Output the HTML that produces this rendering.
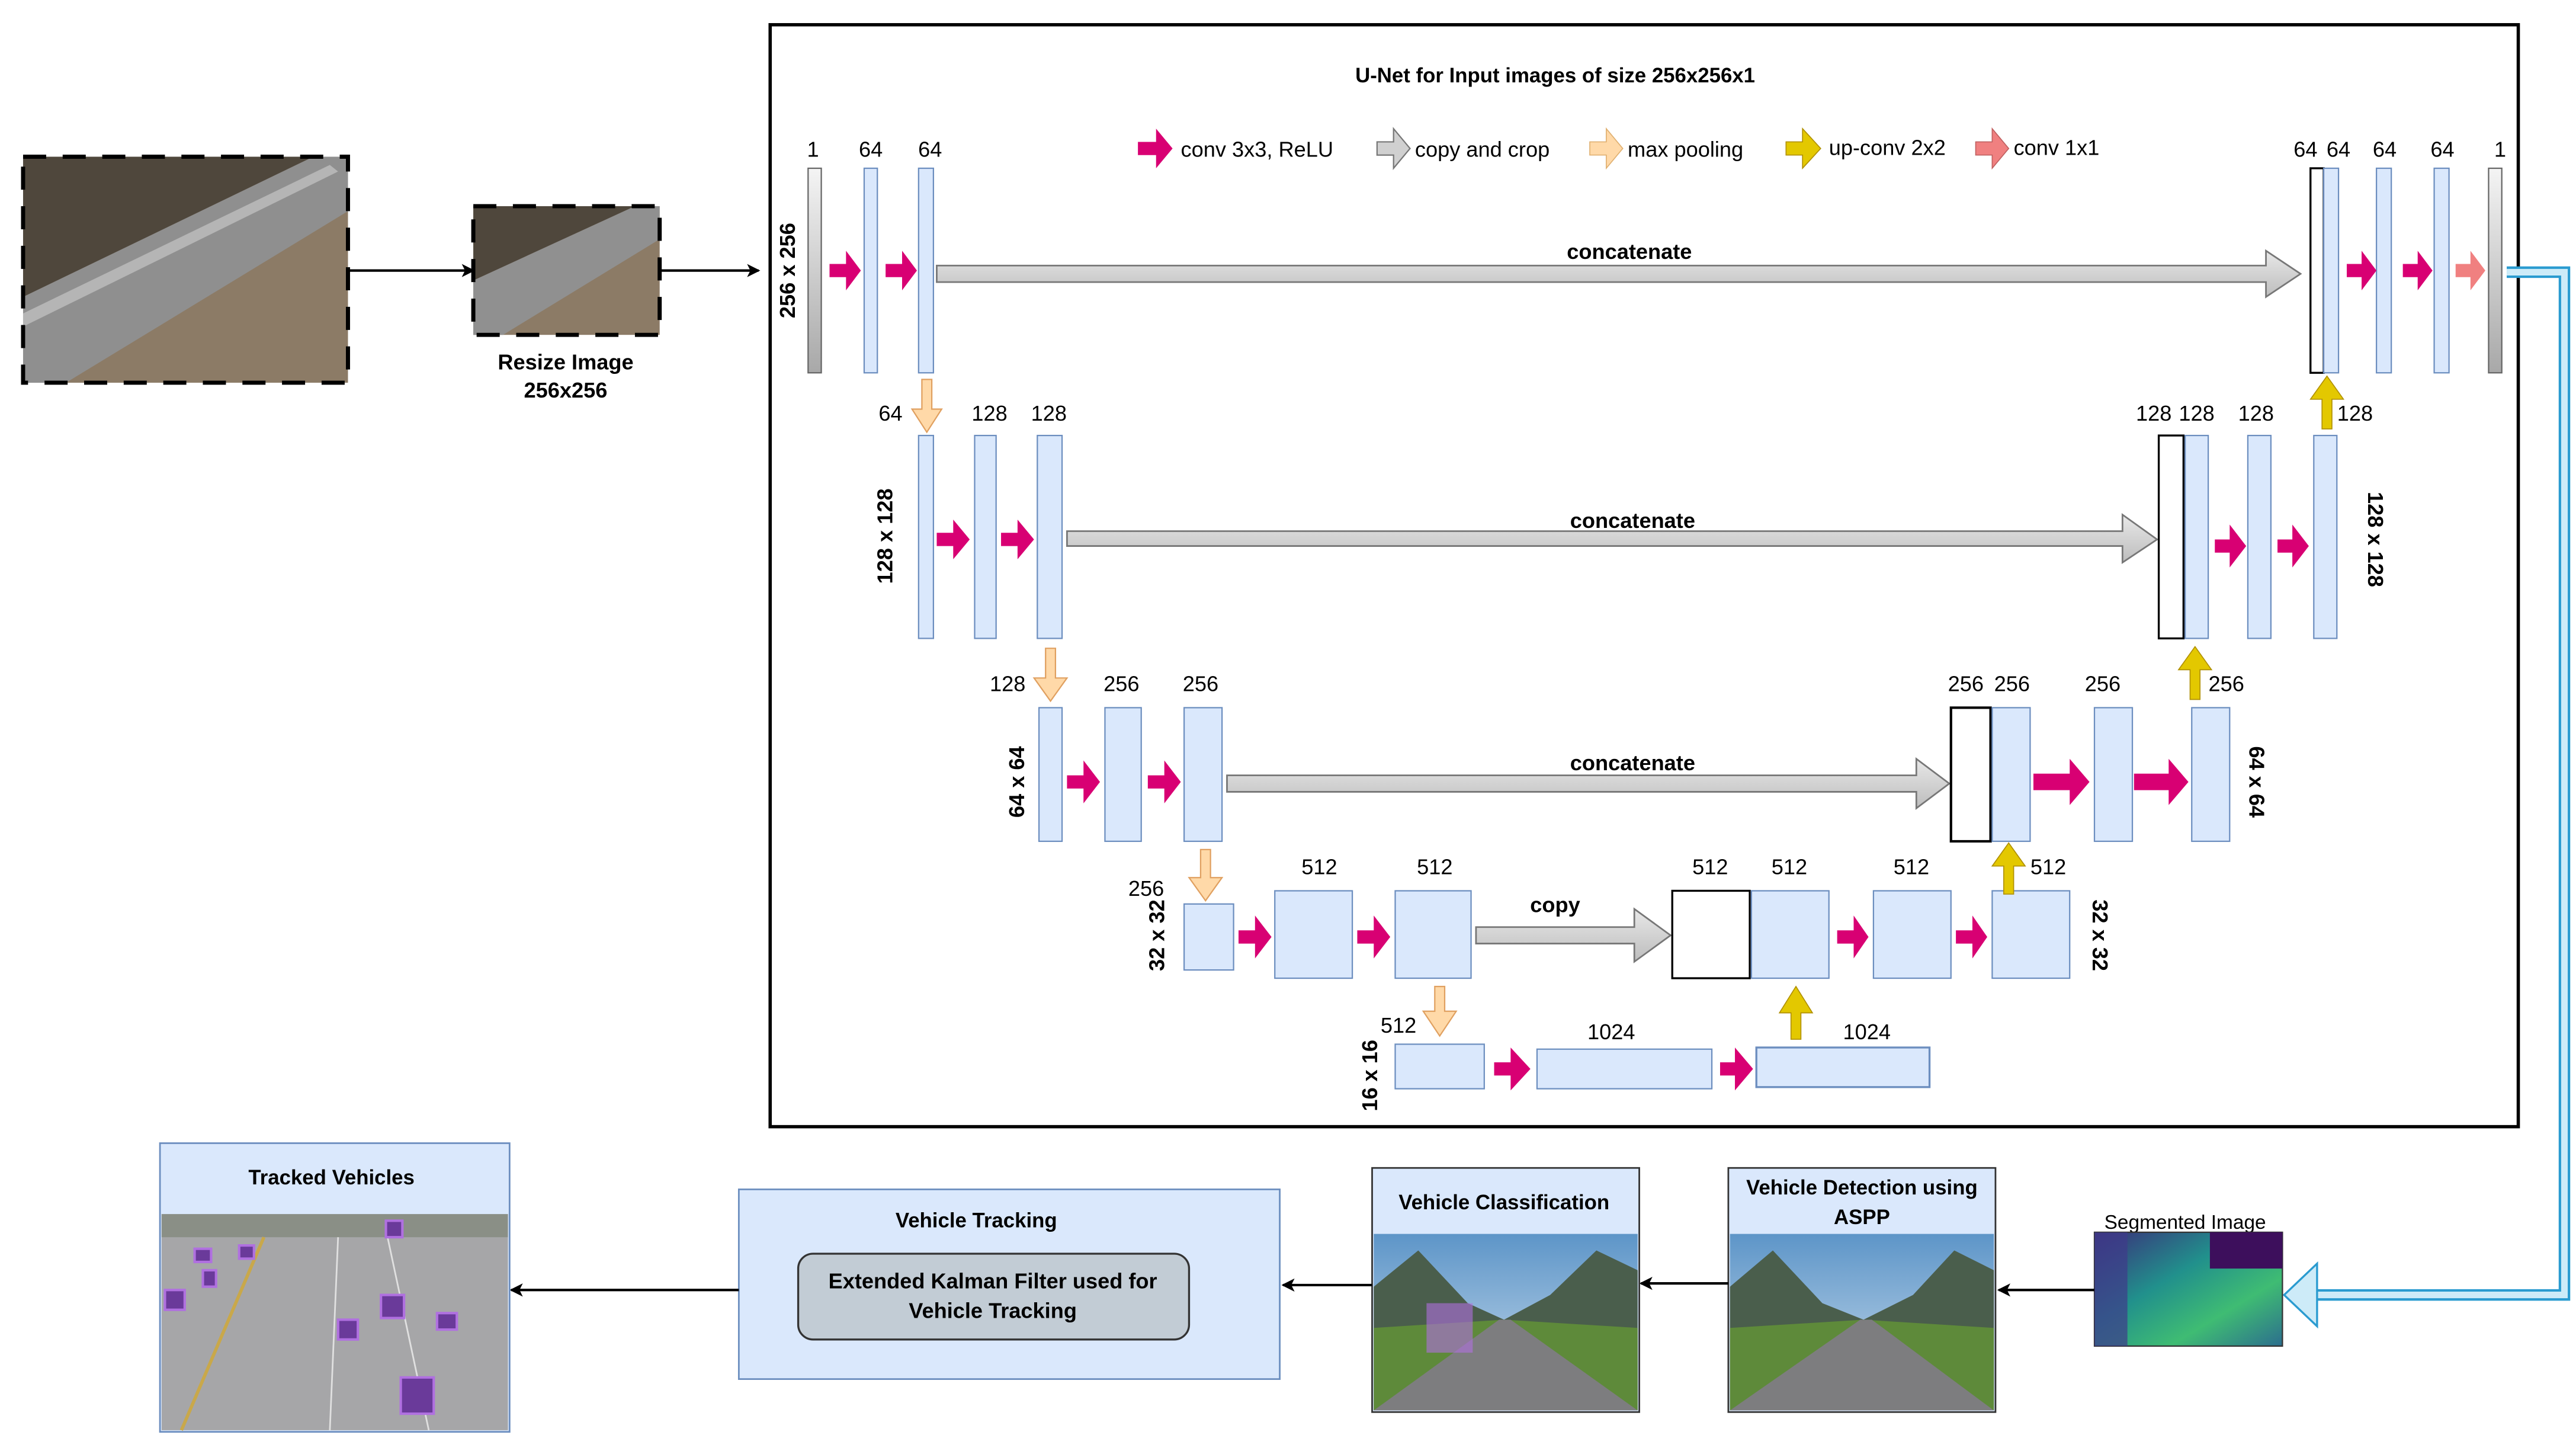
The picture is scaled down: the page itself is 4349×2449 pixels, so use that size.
<!DOCTYPE html>
<html><head><meta charset="utf-8"><style>
html,body{margin:0;padding:0;background:#fff;}
svg{display:block;}
text{font-family:"Liberation Sans",sans-serif;}
</style></head><body>
<svg width="4349" height="2449" viewBox="0 0 1562 879.6" preserveAspectRatio="none" xmlns="http://www.w3.org/2000/svg">
<defs>
<marker id="ah" markerWidth="8" markerHeight="8" refX="7" refY="4" orient="auto" markerUnits="userSpaceOnUse"><path d="M0,0 L8,4 L0,8 L2,4 Z" fill="#000"/></marker>
<linearGradient id="gbar" x1="0" y1="0" x2="0" y2="1"><stop offset="0" stop-color="#f4f4f4"/><stop offset="1" stop-color="#a8a8a8"/></linearGradient>
<linearGradient id="gcopy" x1="0" y1="0" x2="0" y2="1"><stop offset="0" stop-color="#e8e8e8"/><stop offset="1" stop-color="#bdbdbd"/></linearGradient>
<linearGradient id="sky" x1="0" y1="0" x2="0" y2="1"><stop offset="0" stop-color="#5d95c8"/><stop offset="1" stop-color="#cfe0ee"/></linearGradient>
<linearGradient id="seg" x1="0" y1="0" x2="1" y2="1"><stop offset="0" stop-color="#3b2c7a"/><stop offset="0.4" stop-color="#21908c"/><stop offset="0.7" stop-color="#3fbc73"/><stop offset="1" stop-color="#2c6e8e"/></linearGradient>
</defs>

<g>
<rect x="14" y="95" width="197" height="137" fill="#8c7b66"/>
<polygon points="14,95 190,95 14,180" fill="#4f473c"/>
<polygon points="14,180 190,95 211,95 211,128 40,232 14,232" fill="#8f8f8f"/>
<polygon points="14,190 200,100 205,104 14,198" fill="#b5b5b5"/>
<rect x="14" y="95" width="197" height="137" fill="none" stroke="#000" stroke-width="2.5" stroke-dasharray="14,10"/>
<line x1="211" y1="164" x2="287" y2="164" stroke="#000" stroke-width="1.5" marker-end="url(#ah)"/>
<rect x="287" y="125" width="113" height="78" fill="#8c7b66"/>
<polygon points="287,125 385,125 287,170" fill="#4f473c"/>
<polygon points="287,170 385,125 400,125 400,145 305,203 287,203" fill="#909090"/>
<rect x="287" y="125" width="113" height="78" fill="none" stroke="#000" stroke-width="2.5" stroke-dasharray="14,10"/>
<text x="343" y="224" font-size="13" font-weight="bold" text-anchor="middle">Resize Image</text>
<text x="343" y="241" font-size="13" font-weight="bold" text-anchor="middle">256x256</text>
<line x1="400" y1="164" x2="460" y2="164" stroke="#000" stroke-width="1.5" marker-end="url(#ah)"/>
</g>

<rect x="467" y="15" width="1060" height="668" fill="#fff" stroke="#000" stroke-width="2"/>
<text x="943" y="50" font-size="12.5" font-weight="bold" text-anchor="middle">U-Net for Input images of size 256x256x1</text>

<g font-size="13">
<polygon points="690,86 701,86 701,78 711,90 701,102 701,94 690,94" fill="#d80073"/>
<text x="716" y="95">conv 3x3, ReLU</text>
<polygon points="835,86 845,86 845,78 855,90 845,102 845,94 835,94" fill="#d0d0d0" stroke="#777" stroke-width="0.8"/>
<text x="858" y="95">copy and crop</text>
<polygon points="964,86 974,86 974,78 984,90 974,102 974,94 964,94" fill="#ffd9a8" stroke="#e0b070" stroke-width="0.6"/>
<text x="987" y="95">max pooling</text>
<polygon points="1083,86 1093,86 1093,78 1104,90 1093,102 1093,94 1083,94" fill="#e3c800" stroke="#b09000" stroke-width="0.6"/>
<text x="1109" y="94">up-conv 2x2</text>
<polygon points="1198,86 1208,86 1208,78 1218,90 1208,102 1208,94 1198,94" fill="#f08080" stroke="#c06060" stroke-width="0.6"/>
<text x="1221" y="94">conv 1x1</text>
</g>

<g font-size="13" text-anchor="middle">
<rect x="490" y="102" width="8" height="124" fill="url(#gbar)" stroke="#666" stroke-width="0.8"/>
<rect x="524" y="102" width="8" height="124" fill="#dae8fc" stroke="#6c8ebf" stroke-width="0.8"/>
<rect x="557" y="102" width="9" height="124" fill="#dae8fc" stroke="#6c8ebf" stroke-width="0.8"/>
<text x="493" y="95">1</text><text x="528" y="95">64</text><text x="564" y="95">64</text>
<text transform="translate(482,164) rotate(-90)" font-weight="bold">256 x 256</text>
<polygon points="503,160 513,160 513,152 522,164 513,176 513,168 503,168" fill="#d80073"/>
<polygon points="537,160 547,160 547,152 556,164 547,176 547,168 537,168" fill="#d80073"/>
<polygon points="568,161 1374,161 1374,152 1395,166 1374,180 1374,171 568,171" fill="url(#gcopy)" stroke="#777" stroke-width="1"/>
<text x="988" y="157" font-weight="bold">concatenate</text>
<rect x="1401" y="102" width="8" height="124" fill="#fff" stroke="#000" stroke-width="1.2"/>
<rect x="1409" y="102" width="9" height="124" fill="#dae8fc" stroke="#6c8ebf" stroke-width="0.8"/>
<rect x="1441" y="102" width="9" height="124" fill="#dae8fc" stroke="#6c8ebf" stroke-width="0.8"/>
<rect x="1476" y="102" width="9" height="124" fill="#dae8fc" stroke="#6c8ebf" stroke-width="0.8"/>
<rect x="1509" y="102" width="8" height="124" fill="url(#gbar)" stroke="#666" stroke-width="0.8"/>
<polygon points="1423,160 1432,160 1432,152 1441,164 1432,176 1432,168 1423,168" fill="#d80073"/>
<polygon points="1457,160 1466,160 1466,152 1475,164 1466,176 1466,168 1457,168" fill="#d80073"/>
<polygon points="1489,160 1498,160 1498,152 1507,164 1498,176 1498,168 1489,168" fill="#f08080"/>
<text x="1398" y="95">64</text><text x="1418" y="95">64</text><text x="1446" y="95">64</text><text x="1481" y="95">64</text><text x="1516" y="95">1</text>

<polygon points="559,230 565,230 565,248 571,248 562,262 553,248 559,248" fill="#ffd9a8" stroke="#e0a060" stroke-width="0.8"/>
<text x="540" y="255">64</text>
<rect x="557" y="264" width="9" height="123" fill="#dae8fc" stroke="#6c8ebf" stroke-width="0.8"/>
<rect x="591" y="264" width="13" height="123" fill="#dae8fc" stroke="#6c8ebf" stroke-width="0.8"/>
<rect x="629" y="264" width="15" height="123" fill="#dae8fc" stroke="#6c8ebf" stroke-width="0.8"/>
<text x="600" y="255">128</text><text x="636" y="255">128</text>
<text transform="translate(541,325) rotate(-90)" font-weight="bold">128 x 128</text>
<polygon points="568,323 578,323 578,315 588,327 578,339 578,331 568,331" fill="#d80073"/>
<polygon points="607,323 617,323 617,315 627,327 617,339 617,331 607,331" fill="#d80073"/>
<polygon points="647,322 1287,322 1287,312 1308,327 1287,341 1287,331 647,331" fill="url(#gcopy)" stroke="#777" stroke-width="1"/>
<text x="990" y="320" font-weight="bold">concatenate</text>
<rect x="1309" y="264" width="15" height="123" fill="#fff" stroke="#000" stroke-width="1.2"/>
<rect x="1325" y="264" width="14" height="123" fill="#dae8fc" stroke="#6c8ebf" stroke-width="0.8"/>
<rect x="1363" y="264" width="14" height="123" fill="#dae8fc" stroke="#6c8ebf" stroke-width="0.8"/>
<rect x="1403" y="264" width="14" height="123" fill="#dae8fc" stroke="#6c8ebf" stroke-width="0.8"/>
<polygon points="1343,327 1352,327 1352,318 1362,331 1352,344 1352,335 1343,335" fill="#d80073"/>
<polygon points="1381,327 1390,327 1390,318 1400,331 1390,344 1390,335 1381,335" fill="#d80073"/>
<polygon points="1408,260 1414,260 1414,242 1421,242 1411,228 1401,242 1408,242" fill="#e3c800" stroke="#b09000" stroke-width="0.6"/>
<text x="1306" y="255">128</text><text x="1332" y="255">128</text><text x="1368" y="255">128</text><text x="1428" y="255">128</text>
<text transform="translate(1436,327) rotate(90)" font-weight="bold">128 x 128</text>

<polygon points="634,393 640,393 640,411 647,411 637,425 627,411 634,411" fill="#ffd9a8" stroke="#e0a060" stroke-width="0.8"/>
<text x="611" y="419">128</text>
<rect x="630" y="429" width="14" height="81" fill="#dae8fc" stroke="#6c8ebf" stroke-width="0.8"/>
<rect x="670" y="429" width="22" height="81" fill="#dae8fc" stroke="#6c8ebf" stroke-width="0.8"/>
<rect x="718" y="429" width="23" height="81" fill="#dae8fc" stroke="#6c8ebf" stroke-width="0.8"/>
<text x="680" y="419">256</text><text x="728" y="419">256</text>
<text transform="translate(621,474) rotate(-90)" font-weight="bold">64 x 64</text>
<polygon points="647,470 657,470 657,461 667,474 657,487 657,478 647,478" fill="#d80073"/>
<polygon points="696,470 706,470 706,461 716,474 706,487 706,478 696,478" fill="#d80073"/>
<polygon points="744,470 1162,470 1162,460 1182,475 1162,490 1162,480 744,480" fill="url(#gcopy)" stroke="#777" stroke-width="1"/>
<text x="990" y="467" font-weight="bold">concatenate</text>
<rect x="1183" y="429" width="24" height="81" fill="#fff" stroke="#000" stroke-width="1.5"/>
<rect x="1208" y="429" width="23" height="81" fill="#dae8fc" stroke="#6c8ebf" stroke-width="0.8"/>
<rect x="1270" y="429" width="23" height="81" fill="#dae8fc" stroke="#6c8ebf" stroke-width="0.8"/>
<rect x="1329" y="429" width="23" height="81" fill="#dae8fc" stroke="#6c8ebf" stroke-width="0.8"/>
<polygon points="1233,469 1255,469 1255,460 1267,474 1255,488 1255,479 1233,479" fill="#d80073"/>
<polygon points="1294,469 1315,469 1315,460 1327,474 1315,488 1315,479 1294,479" fill="#d80073"/>
<polygon points="1328,424 1334,424 1334,406 1341,406 1331,392 1321,406 1328,406" fill="#e3c800" stroke="#b09000" stroke-width="0.6"/>
<text x="1192" y="419">256</text><text x="1220" y="419">256</text><text x="1275" y="419">256</text><text x="1350" y="419">256</text>
<text transform="translate(1364,474) rotate(90)" font-weight="bold">64 x 64</text>

<polygon points="728,515 734,515 734,532 741,532 731,546 721,532 728,532" fill="#ffd9a8" stroke="#e0a060" stroke-width="0.8"/>
<text x="695" y="543">256</text>
<rect x="718" y="548" width="30" height="40" fill="#dae8fc" stroke="#6c8ebf" stroke-width="0.8"/>
<rect x="773" y="540" width="47" height="53" fill="#dae8fc" stroke="#6c8ebf" stroke-width="0.8"/>
<rect x="846" y="540" width="46" height="53" fill="#dae8fc" stroke="#6c8ebf" stroke-width="0.8"/>
<text x="800" y="530">512</text><text x="870" y="530">512</text>
<text transform="translate(706,567) rotate(-90)" font-weight="bold">32 x 32</text>
<polygon points="751,564 761,564 761,555 771,568 761,581 761,572 751,572" fill="#d80073"/>
<polygon points="823,564 833,564 833,555 843,568 833,581 833,572 823,572" fill="#d80073"/>
<polygon points="895,562 991,562 991,551 1013,567 991,583 991,572 895,572" fill="url(#gcopy)" stroke="#777" stroke-width="1"/>
<text x="943" y="553" font-weight="bold">copy</text>
<rect x="1014" y="540" width="47" height="53" fill="#fff" stroke="#000" stroke-width="1.2"/>
<rect x="1062" y="540" width="47" height="53" fill="#dae8fc" stroke="#6c8ebf" stroke-width="0.8"/>
<rect x="1136" y="540" width="47" height="53" fill="#dae8fc" stroke="#6c8ebf" stroke-width="0.8"/>
<rect x="1208" y="540" width="47" height="53" fill="#dae8fc" stroke="#6c8ebf" stroke-width="0.8"/>
<polygon points="1114,564 1124,564 1124,555 1133,568 1124,581 1124,572 1114,572" fill="#d80073"/>
<polygon points="1186,564 1196,564 1196,555 1205,568 1196,581 1196,572 1186,572" fill="#d80073"/>
<polygon points="1215,542 1221,542 1221,525 1228,525 1218,511 1208,525 1215,525" fill="#e3c800" stroke="#b09000" stroke-width="0.6"/>
<text x="1037" y="530">512</text><text x="1085" y="530">512</text><text x="1159" y="530">512</text><text x="1242" y="530">512</text>
<text transform="translate(1269,567) rotate(90)" font-weight="bold">32 x 32</text>

<polygon points="870,598 876,598 876,613 883,613 873,628 863,613 870,613" fill="#ffd9a8" stroke="#e0a060" stroke-width="0.8"/>
<text x="848" y="626">512</text>
<rect x="846" y="633" width="54" height="27" fill="#dae8fc" stroke="#6c8ebf" stroke-width="0.8"/>
<rect x="932" y="636" width="106" height="24" fill="#dae8fc" stroke="#6c8ebf" stroke-width="0.8"/>
<rect x="1065" y="635" width="105" height="24" fill="#dae8fc" stroke="#6c8ebf" stroke-width="1.2"/>
<text x="977" y="630">1024</text><text x="1132" y="630">1024</text>
<text transform="translate(835,652) rotate(-90)" font-weight="bold">16 x 16</text>
<polygon points="906,644 916,644 916,635 928,648 916,661 916,652 906,652" fill="#d80073"/>
<polygon points="1043,644 1052,644 1052,635 1063,648 1052,661 1052,652 1043,652" fill="#d80073"/>
<polygon points="1086,630 1092,630 1092,614 1099,614 1089,598 1079,614 1086,614" fill="#e3c800" stroke="#b09000" stroke-width="0.6"/>
</g>

<path d="M1520,165 L1555,165 L1555,785 L1400,785" fill="none" stroke="#2a9bd0" stroke-width="7"/>
<path d="M1520,165 L1555,165 L1555,785 L1400,785" fill="none" stroke="#cdebf8" stroke-width="4"/>
<polygon points="1405,766 1385,785 1405,804" fill="#cdebf8" stroke="#2a9bd0" stroke-width="1.2"/>

<text x="1325" y="745" font-size="12" text-anchor="middle">Segmented Image</text>
<rect x="1270" y="747" width="114" height="69" fill="url(#seg)" stroke="#333" stroke-width="0.8"/>
<rect x="1340" y="747" width="44" height="22" fill="#3d0f5c"/>
<rect x="1270" y="747" width="20" height="69" fill="#3f3a8a" opacity="0.7"/>
<line x1="1270" y1="782" x2="1212" y2="782" stroke="#000" stroke-width="1.5" marker-end="url(#ah)"/>

<g>
<rect x="1048" y="708" width="162" height="148" fill="#dae8fc" stroke="#333" stroke-width="1"/>
<rect x="1049" y="748" width="160" height="107" fill="url(#sky)"/>
<polygon points="1049,780 1075,758 1105,790 1130,800 1160,785 1185,758 1209,770 1209,855 1049,855" fill="#4a5e4c"/>
<polygon points="1049,805 1130,800 1209,805 1209,855 1049,855" fill="#5e8a3a"/>
<polygon points="1128,800 1135,800 1209,855 1049,855" fill="#7d7d7f"/>
<text x="1129" y="724" font-size="12.5" font-weight="bold" text-anchor="middle">Vehicle Detection using</text>
<text x="1129" y="742" font-size="12.5" font-weight="bold" text-anchor="middle">ASPP</text>
</g>
<line x1="1048" y1="778" x2="995" y2="778" stroke="#000" stroke-width="1.5" marker-end="url(#ah)"/>
<g>
<rect x="832" y="708" width="162" height="148" fill="#dae8fc" stroke="#333" stroke-width="1"/>
<rect x="833" y="748" width="160" height="107" fill="url(#sky)"/>
<polygon points="833,780 860,758 890,790 912,800 940,785 968,758 993,770 993,855 833,855" fill="#4a5e4c"/>
<polygon points="833,805 912,800 993,805 993,855 833,855" fill="#5e8a3a"/>
<polygon points="909,800 916,800 993,855 833,855" fill="#7d7d7f"/>
<rect x="865" y="790" width="28" height="30" fill="#b070e0" opacity="0.6"/>
<text x="912" y="733" font-size="12.5" font-weight="bold" text-anchor="middle">Vehicle Classification</text>
</g>
<line x1="832" y1="779" x2="778" y2="779" stroke="#000" stroke-width="1.5" marker-end="url(#ah)"/>
<rect x="448" y="721" width="328" height="115" fill="#dae8fc" stroke="#6c8ebf" stroke-width="1"/>
<text x="592" y="744" font-size="12.5" font-weight="bold" text-anchor="middle">Vehicle Tracking</text>
<rect x="484" y="760" width="237" height="52" rx="9" fill="#c2ccd5" stroke="#333" stroke-width="1.2"/>
<text x="602" y="781" font-size="13" font-weight="bold" text-anchor="middle">Extended Kalman Filter used for</text>
<text x="602" y="799" font-size="13" font-weight="bold" text-anchor="middle">Vehicle Tracking</text>
<line x1="448" y1="782" x2="310" y2="782" stroke="#000" stroke-width="1.5" marker-end="url(#ah)"/>
<g>
<rect x="97" y="693" width="212" height="175" fill="#dae8fc" stroke="#6c8ebf" stroke-width="1"/>
<rect x="98" y="736" width="210" height="131" fill="#a6a6a8"/>
<rect x="98" y="736" width="210" height="14" fill="#8a8f86"/>
<line x1="160" y1="750" x2="110" y2="867" stroke="#c9a84a" stroke-width="2"/>
<line x1="205" y1="750" x2="200" y2="867" stroke="#e0e0e0" stroke-width="1"/>
<line x1="235" y1="750" x2="260" y2="867" stroke="#e0e0e0" stroke-width="1"/>
<g fill="#6a3a9a" stroke="#b070e0" stroke-width="1.5">
<rect x="118" y="757" width="10" height="8"/><rect x="145" y="755" width="9" height="8"/><rect x="234" y="740" width="10" height="10"/>
<rect x="100" y="782" width="12" height="12"/><rect x="205" y="800" width="12" height="12"/><rect x="265" y="796" width="12" height="10"/>
<rect x="243" y="835" width="20" height="22"/><rect x="231" y="785" width="14" height="14"/><rect x="123" y="770" width="8" height="10"/>
</g>
<text x="201" y="718" font-size="12.5" font-weight="bold" text-anchor="middle">Tracked Vehicles</text>
</g>
</svg>
</body></html>
